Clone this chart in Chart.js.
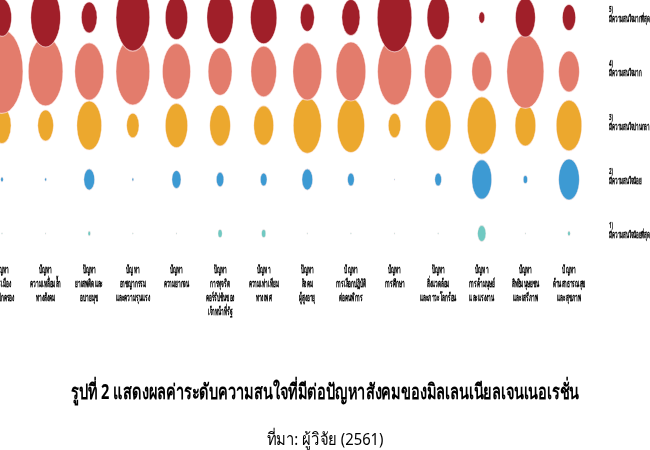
<!DOCTYPE html>
<html>
<head>
<meta charset="utf-8">
<script src="https://cdn.jsdelivr.net/npm/chart.js@4"></script>
<style>
    body { margin: 0; background: #fff; }
    #wrap { position: relative; width: 650px; height: 450px; overflow: hidden; }
    #chart { position: absolute; left: 0; top: 0; }
    .caption { position: absolute; left: 0; width: 650px; height: 30px; color: #000; font-family: "Noto Sans", sans-serif; white-space: nowrap; }
    #title { top: 377px; font-size: 21px; font-weight: bold; line-height: 28px; }
    #source { top: 426px; font-size: 17px; line-height: 26px; }
    .caption span { position: absolute; left: 50%; top: 0; transform: translateX(-50%); }
</style>
</head>
<body>
<div id="wrap">
    <canvas id="chart" width="650" height="450"></canvas>
    <div class="caption" id="title"><span>รูปที่ 2 แสดงผลค่าระดับความสนใจที่มีต่อปัญหาสังคมของมิลเลนเนียลเจนเนอเรชั่น</span></div>
    <div class="caption" id="source"><span>ที่มา: ผู้วิจัย (2561)</span></div>
</div>
<script>
// Social problems (x axis), one entry per column, split into lines
const categories = [
    ['ปัญหา', 'การเมือง', 'การปกครอง'],
    ['ปัญหา', 'ความเหลื่อมล้ำ', 'ทางสังคม'],
    ['ปัญหา', 'ยาเสพติดและ', 'อบายมุข'],
    ['ปัญหา', 'อาชญากรรม', 'และความรุนแรง'],
    ['ปัญหา', 'ความยากจน'],
    ['ปัญหา', 'การทุจริต', 'คอร์รัปชันของ', 'เจ้าหน้าที่รัฐ'],
    ['ปัญหา', 'ความเท่าเทียม', 'ทางเพศ'],
    ['ปัญหา', 'สังคม', 'ผู้สูงอายุ'],
    ['ปัญหา', 'การเลือกปฏิบัติ', 'ต่อคนพิการ'],
    ['ปัญหา', 'การศึกษา'],
    ['ปัญหา', 'สิ่งแวดล้อม', 'และภาวะโลกร้อน'],
    ['ปัญหา', 'การค้ามนุษย์', 'และแรงงาน'],
    ['ปัญหา', 'สิทธิมนุษยชน', 'และเสรีภาพ'],
    ['ปัญหา', 'ด้านสาธารณสุข', 'และสุขภาพ']
];

// Interest levels (y axis), top to bottom
const levelLabels = [
    ['5)', 'มีความสนใจมากที่สุด'],
    ['4)', 'มีความสนใจมาก'],
    ['3)', 'มีความสนใจปานกลาง'],
    ['2)', 'มีความสนใจน้อย'],
    ['1)', 'มีความสนใจน้อยที่สุด']
];
const levelValues = [5, 4, 3, 2, 1];

// Share of respondents (%) per level, one value per problem
const veryHigh = [23, 36, 19, 41, 27, 32, 32, 17, 22, 42, 27, 7, 24, 16];
const high     = [51, 42, 35, 41, 34, 29, 31, 35, 36, 41, 33, 24, 45, 25];
const moderate = [22, 19, 30, 15, 27, 25, 24, 34, 33, 15, 31, 35, 25, 31];
const low      = [3, 2, 13, 2, 11, 9, 8, 13, 8, 1, 8, 24, 5, 25];
const veryLow  = [1, 1, 3, 1, 1, 5, 5, 1, 1, 1, 1, 10, 1, 3];

const levelColors = ['#a01f29', '#e37c6c', '#eca82e', '#3d9ad3', '#70c9c2'];

const PX_PER_PERCENT = 0.41;   // bubble radius per percent
const STRETCH_Y = 2;           // bubbles are drawn as tall ellipses

const seriesList = [veryHigh, high, moderate, low, veryLow];

const datasets = seriesList.map((series, li) => ({
    label: levelLabels[li].join(' '),
    data: series.map((v, i) => ({ x: i, y: levelValues[li], r: v * PX_PER_PERCENT })),
    backgroundColor: levelColors[li],
    borderColor: 'rgba(255, 235, 235, 0.6)',
    borderWidth: 0.6,
    clip: false
}));

// Stretch each row of bubbles vertically around its own baseline
const stretchPlugin = {
    id: 'stretch',
    beforeDatasetDraw(chart, args) {
        const ctx = chart.ctx;
        const y = chart.scales.y.getPixelForValue(levelValues[args.index]);
        ctx.save();
        ctx.translate(0, y);
        ctx.scale(1, STRETCH_Y);
        ctx.translate(0, -y);
    },
    afterDatasetDraw(chart) {
        chart.ctx.restore();
    }
};

// Category names under the columns and level names to the right
const labelPlugin = {
    id: 'labels',
    afterDraw(chart) {
        const { ctx, chartArea, scales } = chart;
        ctx.save();
        ctx.fillStyle = '#000';
        ctx.strokeStyle = 'rgba(0, 0, 0, 0.35)';
        ctx.lineWidth = 0.5;
        ctx.textBaseline = 'middle';

        ctx.textAlign = 'center';
        ctx.font = 'bold 10.5px "Noto Sans", sans-serif';
        categories.forEach((lines, i) => {
            const x = scales.x.getPixelForValue(i);
            lines.forEach((line, j) => {
                ctx.save();
                ctx.translate(x, chartArea.bottom + 37 + j * 14);
                ctx.scale(0.45, 1);
                ctx.fillText(line, 0, 0);
                ctx.strokeText(line, 0, 0);
                ctx.restore();
            });
        });

        ctx.textAlign = 'left';
        ctx.font = 'bold 9px "Noto Sans", sans-serif';
        levelLabels.forEach((lines, li) => {
            const y = scales.y.getPixelForValue(levelValues[li]);
            lines.forEach((line, j) => {
                ctx.save();
                ctx.translate(chartArea.right + 40, y - 8 + j * 9.5);
                ctx.scale(0.5, 1);
                ctx.fillText(line, 0, 0);
                ctx.strokeText(line, 0, 0);
                ctx.restore();
            });
        });
        ctx.restore();
    }
};

new Chart(document.getElementById('chart'), {
    type: 'bubble',
    data: { datasets },
    options: {
        responsive: false,
        animation: false,
        layout: { autoPadding: false, padding: { left: 2, right: 81, top: 17.5, bottom: 216.5 } },
        plugins: {
            legend: { display: false },
            tooltip: { enabled: false }
        },
        scales: {
            x: { type: 'linear', min: 0, max: categories.length - 1, display: false },
            y: { type: 'linear', min: 1, max: 5, display: false }
        }
    },
    plugins: [stretchPlugin, labelPlugin]
});

// Squeeze the captions to the width they take in the figure
function fitCaption(id, width) {
    const span = document.querySelector('#' + id + ' span');
    const w = span.getBoundingClientRect().width;
    if (w > 0) span.style.transform = 'translateX(-50%) scaleX(' + (width / w) + ')';
}
fitCaption('title', 508);
fitCaption('source', 117);
</script>
</body>
</html>
